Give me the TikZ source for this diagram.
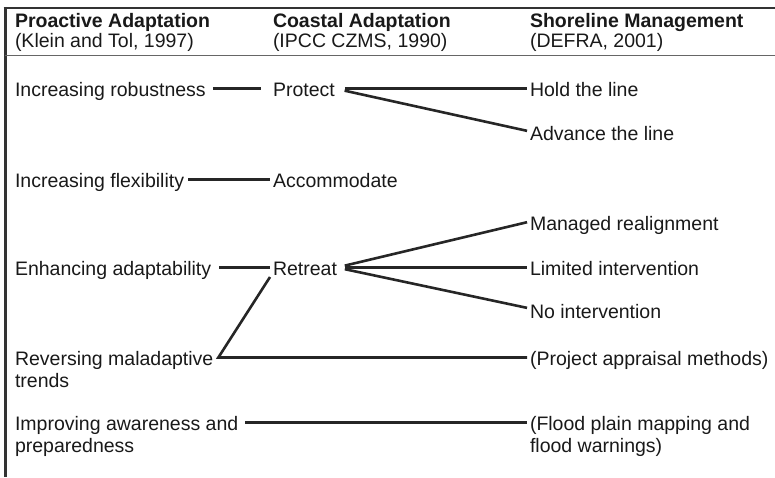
\documentclass[tikz,border=0pt]{standalone}
\usepackage{fontspec}
\setmainfont{Liberation Sans}
\begin{document}
\begin{tikzpicture}[x=1pt,y=-1pt,
  txt/.style={anchor=north west, inner sep=0pt, outer sep=0pt, text=black!90,
    font=\fontsize{19.5}{22}\selectfont, text height=15pt, text depth=0pt},
  txttwo/.style={anchor=north west, inner sep=0pt, outer sep=0pt, text=black!90,
    font=\fontsize{19.5}{22}\selectfont, align=left},
  head/.style={anchor=north west, inner sep=0pt, outer sep=0pt, text=black!90,
    font=\fontsize{19.5}{20}\selectfont, align=left},
  conn/.style={draw=black!85, line width=2.6pt},
  frame/.style={draw=black!80}
]
\useasboundingbox (0,0) rectangle (775,477);
% frame
\draw[frame, line width=2.5pt] (3.5,8) -- (775,8);
\draw[frame, line width=3pt] (5,6.8) -- (5,477);
\draw[draw=black!60, line width=1pt] (5,55) -- (775,55);
% headers
\node[head] (h1) at (15,12) {\rule{0pt}{15pt}\textbf{Proactive Adaptation}\\(Klein and Tol, 1997)};
\node[head] (h2) at (273,12) {\rule{0pt}{15pt}\textbf{Coastal Adaptation}\\(IPCC CZMS, 1990)};
\node[head] (h3) at (530,12) {\rule{0pt}{15pt}\textbf{Shoreline Management}\\(DEFRA, 2001)};
% column 1
\node[txt] (robust) at (15,81) {Increasing robustness};
\node[txt] (flex) at (15,172) {Increasing flexibility};
\node[txt] (enh) at (15,260) {Enhancing adaptability};
\node[txttwo] (rev) at (15,350) {\rule{0pt}{15pt}Reversing maladaptive\\trends};
\node[txttwo] (impr) at (15,415) {\rule{0pt}{15pt}Improving awareness and\\preparedness};
% column 2
\node[txt] (protect) at (273,81) {Protect};
\node[txt] (accom) at (273,172) {Accommodate};
\node[txt] (retreat) at (273,260) {Retreat};
% column 3
\node[txt] (hold) at (530,81) {Hold the line};
\node[txt] (advance) at (530,125) {Advance the line};
\node[txt] (managed) at (530,215) {Managed realignment};
\node[txt] (limited) at (530,260) {Limited intervention};
\node[txt] (noint) at (530,303) {No intervention};
\node[txttwo] (project) at (530,350) {\rule{0pt}{15pt}(Project appraisal methods)};
\node[txttwo] (flood) at (530,415) {\rule{0pt}{15pt}(Flood plain mapping and\\flood warnings)};
% connectors
\draw[conn, shorten <=7pt, shorten >=12pt] (robust.east) -- (protect.west);
\draw[conn, shorten <=10pt, shorten >=3pt] (protect.east) -- (hold.west);
\draw[conn, shorten <=10pt, shorten >=3pt] (protect.east) -- ([yshift=1pt]advance.west);
\draw[conn, shorten <=4pt, shorten >=3pt] (flex.east) -- (accom.west);
\draw[conn, shorten <=8pt, shorten >=3pt] (enh.east) -- (retreat.west);
\draw[conn, shorten <=8pt, shorten >=3pt] (retreat.east) -- ([yshift=1pt]managed.west);
\draw[conn, shorten <=8pt, shorten >=3pt] (retreat.east) -- (limited.west);
\draw[conn, shorten <=8pt, shorten >=3pt] (retreat.east) -- ([yshift=2pt]noint.west);
\coordinate (junc) at ([xshift=5pt,yshift=-7.5pt]rev.north east);
\draw[conn, line join=miter] ([xshift=-3pt,yshift=-2pt]retreat.south west) -- (junc)
  -- ([xshift=-3pt,yshift=-7.5pt]project.north west);
\draw[conn, shorten <=7pt, shorten >=3pt] ([yshift=-7.5pt]impr.north east) -- ([yshift=-7.5pt]flood.north west);
\end{tikzpicture}
\end{document}
